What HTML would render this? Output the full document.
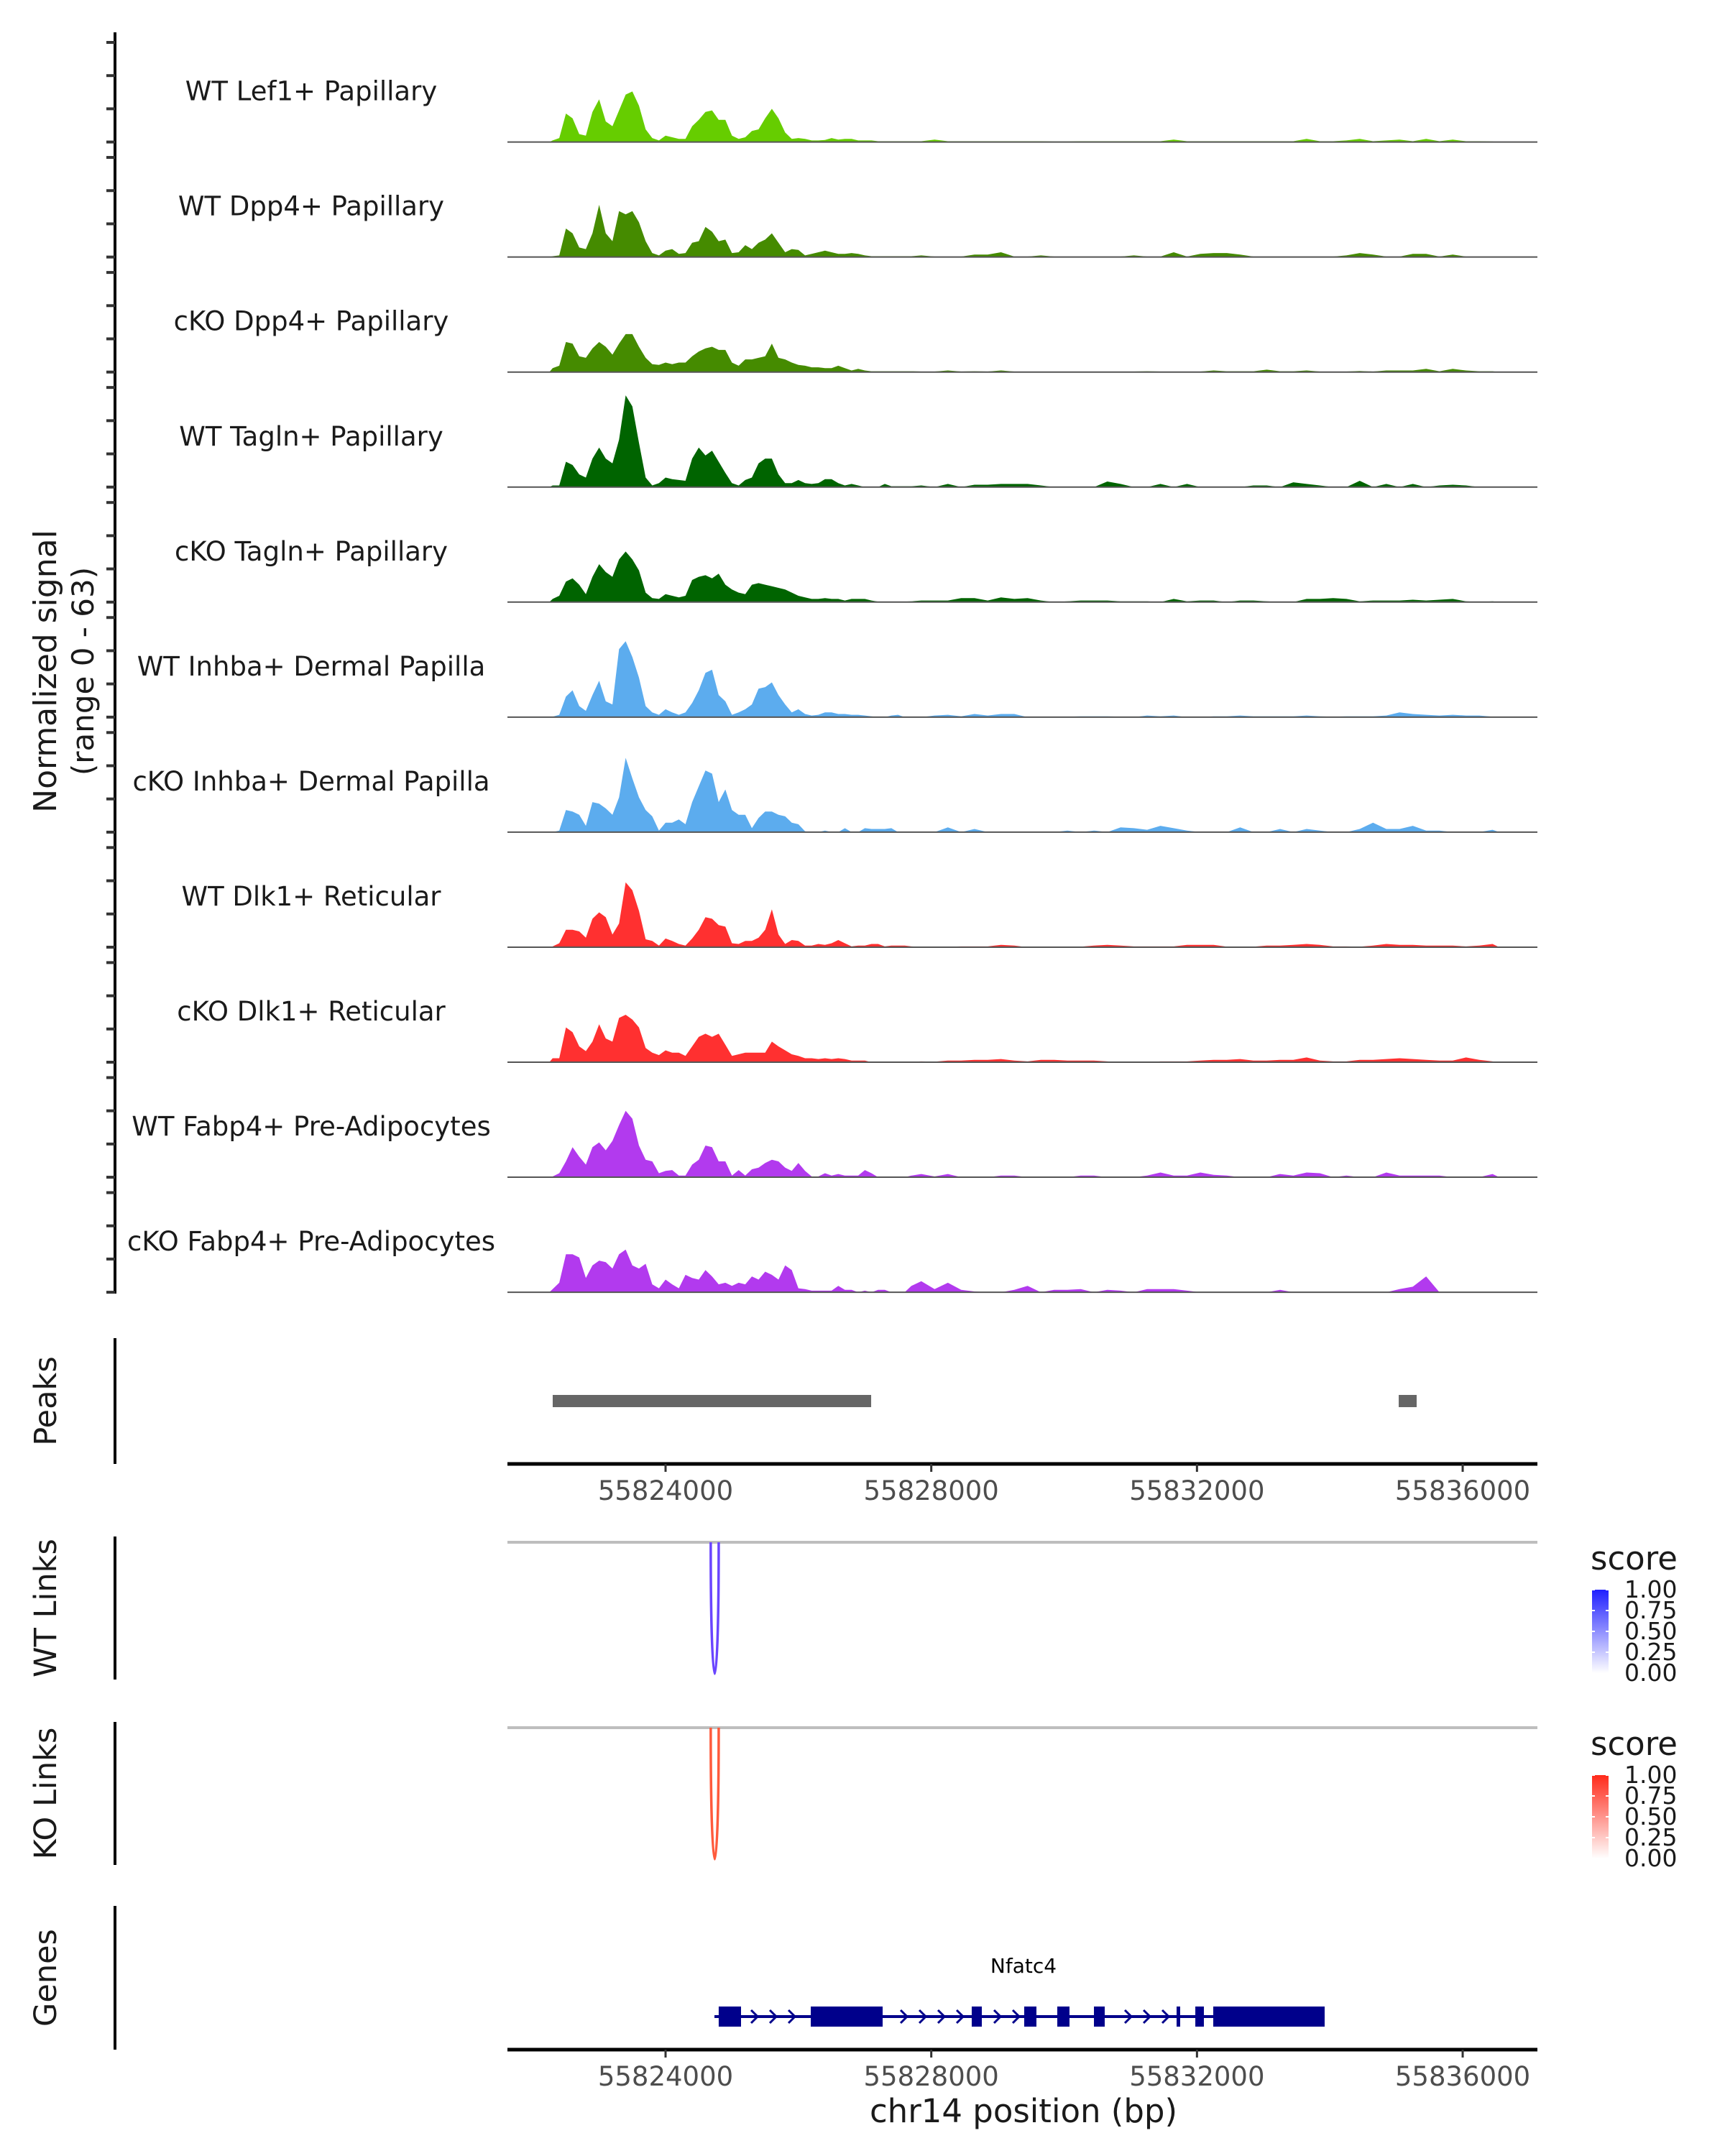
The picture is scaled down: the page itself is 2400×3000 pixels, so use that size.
<!DOCTYPE html>
<html><head><meta charset="utf-8"><style>
html,body{margin:0;padding:0;background:#fff}
svg{display:block}
text{font-family:"DejaVu Sans","Liberation Sans",sans-serif}
</style></head><body>
<svg id="fig" xmlns="http://www.w3.org/2000/svg" width="2400" height="3000" viewBox="0 0 2400 3000">
<rect width="2400" height="3000" fill="#fff"/>
<g id="tracks"></g>
<g id="peaks"></g>
<g id="links"></g>
<g id="genes"></g>
<g>
<text x="78" y="934" font-size="44" fill="#1a1a1a" text-anchor="middle" transform="rotate(-90 78 934)">Normalized signal</text>
<text x="130" y="934" font-size="42" fill="#1a1a1a" text-anchor="middle" transform="rotate(-90 130 934)">(range 0 - 63)</text>
</g>
<text x="1424" y="2953" font-size="45" fill="#1a1a1a" text-anchor="middle">chr14 position (bp)</text>
</svg>
<script>
const trackNames = ["WT Lef1+ Papillary","WT Dpp4+ Papillary","cKO Dpp4+ Papillary","WT Tagln+ Papillary","cKO Tagln+ Papillary","WT Inhba+ Dermal Papilla","cKO Inhba+ Dermal Papilla","WT Dlk1+ Reticular","cKO Dlk1+ Reticular","WT Fabp4+ Pre-Adipocytes","cKO Fabp4+ Pre-Adipocytes"];
const trackColors = ["#66cd00","#458b00","#458b00","#006400","#006400","#5cacee","#5cacee","#ff3030","#ff3030","#b23aee","#b23aee"];
// main region: 100bp bins starting 55822250
const mainStart = 55822250;
const mainBin = 100;
const sigLef1WT = [1,2.5,18,15,5,4,19,27,13,10,20,30,32,23,8,2.5,1,4,3,2,2,10,14,19,20,14,14,4,2,3,7,8,15,21,15,6,2,2.5,2,1,1,1.3,2.5,1.5,2,2,1,1,1,0.5,0.5,0.5,0.5,0.5,0.5];
const sigDpp4WT = [0.5,1,18,15,6,5,15,33,15,10,29,27,29,22,10,2.5,1,4,5,2,2.5,9,10,19,16,10,11,2.5,3,7.5,5,9,11,15,9,3,5,4.5,1,2,3,4,3,2,2,2.5,2,1,0.5,0.5,0.5,0.5,0.5,0.5,0.5];
const sigDpp4KO = [2.5,4,19,18,10,9,15,19,16,11,18,24,24,16,9,5,4.5,6,5,6,6,10,13,15,16,14,14,6,4,8,8,9,10,18,9,8,6,4.5,4,3,3,2.5,2.5,4,2.5,1,2,1,0.5,0.5,0.5,0.5,0.5,0.5,0.5];
const sigTaglnWT = [1,1,16,14,8,6,18,25,18,15,30,58,51,28,6,1,2.5,6,5,4.5,4,18,25,20,23,16,9,2.5,1,4.5,6,15,18,18,8,2.5,2.5,4.5,2.5,2,2.5,5,5,2.5,1,2,1,0,0,0,2,0.5,0.5,0.5,0.5];
const sigTaglnKO = [2,4,13,15,11,5,16,24,19,16,27,32,27,20,6,2.5,2,5,4,3,4,14,16,17,15,18,11,8,6,5,11,12,11,10,9,8,6,4,3,2,2,2.5,2,2,1,2,2,2,1,0.3,0.3,0.3,0.3,0.3,0.5];
const sigInhbaWT = [0.3,1.5,13,17,7,4,14,23,10,8,43,48,38,25,7,3,1.5,5,3,1.5,3,9,17,28,30,14,10,1.5,3,5,8,18,19,22,14,8,3,5,2,1,1.5,3,3,2,2,1.5,1.5,1,0.5,0,0,1,1.5,0,0];
const sigInhbaKO = [0,1,14,13,11,4,19,18,15,11,22,47,34,22,14,10,1,6,6,8,5,19,29,39,37,19,27,14,11,11,2.5,9,13,13,11,10,6,5,0.5,0,0,1,0,0,2.5,0,0,2.5,2,2,2,2.5,0,0,0];
const sigDlk1WT = [0.5,2.5,11,11,10,6,18,22,19,8,15,41,36,23,5,4,1,5.5,4,2,1,5.5,11,19,18,14,13,2.5,2,4,4,6,11,24,8,2,4.5,4,1,1,2,1.5,2.5,4.5,2.5,0.5,1,1,2,2,0.5,1,1,1,0.5];
const sigDlk1KO = [2.5,2.5,22,19,10,7,13,24,15,13,28,30,27,22,9,6,4.5,7.5,6,6,4,10,16,18,16,18,11,4,5,6,6,6,6,13,10,7.5,5,4,2.5,2.5,2,2.5,2,2.5,2,1,1,1,0,0.3,0.3,0.3,0.3,0.3,0.3];
const sigFabp4WT = [0.5,2.5,10,19,13,8,19,22,17,23,33,42,37,20,11,10,2.5,4,4.5,1,1,8,11,20,19,10,10,1,4.5,1,5,6,9,11,10,6,4,9,4,0.5,0.5,2.5,1,2,1,1,1,4.5,2.5,0,0.5,0,0,0,1];
const sigFabp4KO = [2,6,24,24,22,9,17,20,19,15,24,27,17,15,18,5,2.5,8,5,2.5,11,9,8,14,10,5,6,4,6,5,10,8,13,11,8,17,14,2.5,2,1,1,1,1,4,1.5,1.5,0,1,0,1.5,1.5,0,0,0,4];
// tail region: 200bp bins starting 55827750
const tailStart = 55827750;
const tailBin = 200;
const tailLef1WT = [0.5,1.5,0.5,0.5,0.5,0.5,0.5,0.5,0.5,0.5,0.3,0.3,0.5,0.5,0.5,0.5,0.5,0.5,0.5,1.5,0.5,0.5,0.5,0.5,0.5,0.5,0.5,0.5,0.5,2,0.5,0.5,1,2,0.5,1,1.5,0.5,2,0.5,1.5,0.5,0.5,0.3];
const tailDpp4WT = [1,0.3,0.3,0.3,1.5,1.5,3,0.3,0.3,1,0.3,0.3,0.3,0.3,0.3,0.3,1,0.3,0.3,3,0.3,2,2.5,2.5,1.5,0.3,0.3,0.3,0.3,0.3,0.3,0.3,1,2.5,1.5,0.3,0.3,2,2,0.3,1.5,0.3,0.3,0];
const tailDpp4KO = [0.3,0.3,1,0.3,0.5,0.3,1,0.3,0.3,0.3,0.3,0.3,0.3,0.3,0.3,0.3,0.3,0.5,0.3,0.3,0.3,0.3,1,0.5,0.5,0.5,1.5,0.5,0.5,1,0.3,0.3,0.3,0.7,0.3,1,1,1,2,0.5,2,1,0.5,0.5];
const tailTaglnWT = [1,0,2,0,1.5,1.5,2,2,2,1,0,0,0,0,3.5,2,0,0,2,0,2,0,0,0,0,1,1,0,3,2,1,0,0,4,0,2,0,2,0,1,1.5,1,0,0];
const tailTaglnKO = [1,1,1,2.5,2.5,1,3,2,2.5,1,0,0.5,1,1,1,0.5,0.5,0.5,0,2,0.5,1,1,0,1,1,0.5,0,0,2,2,2.5,2,0.5,1,1,1,1.5,1,1.5,2,0.5,0,0.5];
const tailInhbaWT = [0,1,1.5,0.5,2,1,2,2,0,0,0,0.3,0.5,0.5,0.5,0.3,0,1,0.5,1,0,0,0.5,0.5,1,0.5,0.5,0.5,0.5,1,0.5,0.3,0.5,0.5,0.5,1,3,2,1.5,1,1.5,1,1,0.3];
const tailInhbaKO = [0,0,3,0,2,0,0,0,0,0,0,1,0,1,0,3,2.5,1.5,4,2.5,1,0,0,0,3,0,0,2,0,2,1,0,0,2,6,2,2,4,1,1,0,0,0,1.5];
const tailDlk1WT = [0.3,0,0.3,0.5,0.5,0.5,1.5,1,0,0,0.3,0.3,0.3,1,1.5,1,0.5,0.5,0.5,0.5,1.5,1.5,1.5,0.3,0.3,0.3,1,1,1.5,2,1.5,0.5,0.5,0.3,1,2,1.5,1.5,1,1,1,0.5,1,2];
const tailDlk1KO = [0.5,0.3,1,1,1.5,1.5,2,1,0.5,1.5,1.5,1,1,1,0.5,0,0,0,0.5,0.5,0.5,1,1.5,1.5,2,1,1,1.5,1.5,3,1,0.5,0.5,1.5,1.5,2,2.5,2,1.5,1,1,3,1.5,0.5];
const tailFabp4WT = [2,0.5,2,0,0,0,1,1,0,0,0,0,1,1,0,0,0,1,3,1,1,3,1.5,1,0,0,0,2,1,3,2.5,0,1,0,0,3,1,1,1,1,0,0,0,2];
const tailFabp4KO = [7,2,6,1.5,0.5,0,0,1.5,4,0,1.5,1.5,2,0,1.5,1,0,2,2,2,1,0,0,0,0,0,0,1.5,0,0,0,0,0,0,0,0,2,3.5,10,0,0,0,0,0];
const mainSeries = [sigLef1WT,sigDpp4WT,sigDpp4KO,sigTaglnWT,sigTaglnKO,sigInhbaWT,sigInhbaKO,sigDlk1WT,sigDlk1KO,sigFabp4WT,sigFabp4KO];
const tailSeries = [tailLef1WT,tailDpp4WT,tailDpp4KO,tailTaglnWT,tailTaglnKO,tailInhbaWT,tailInhbaKO,tailDlk1WT,tailDlk1KO,tailFabp4WT,tailFabp4KO];
const yRangeMax = 63;
const yTickValues = [0,21,42,63];
const xTickValues = [55824000,55828000,55832000,55836000];
const peakStarts = [55822301,55835037];
const peakEnds = [55827095,55835307];
const wtLinkStart = [55824680];
const wtLinkEnd = [55824800];
const wtLinkScore = [0.8];
const koLinkStart = [55824680];
const koLinkEnd = [55824800];
const koLinkScore = [0.8];
const exonStarts = [55824800,55826186,55828609,55829399,55829897,55830449,55831693,55831975,55832245];
const exonEnds = [55825136,55827268,55828761,55829583,55830081,55830611,55831747,55832104,55833922];
const geneStart = 55824736, geneEnd = 55833922;
const legendTicks = ["1.00","0.75","0.50","0.25","0.00"];

const NS = "http://www.w3.org/2000/svg";
const X0 = 706, X1 = 2139;
function xScale(bp){ return 926 + (bp - 55824000) * 0.09242; }
const trackTop0 = 197.6, trackStep = 160.05, trackH = 138.6;
function yScale(v, k){ return trackTop0 + trackStep*k - v / yRangeMax * trackH; }
function mk(tag, attrs, parent){ const e = document.createElementNS(NS, tag); for (const a in attrs) e.setAttribute(a, attrs[a]); parent.appendChild(e); return e; }

const tracks = document.getElementById('tracks');
const axis = mk('line', {x1:160,y1:45,x2:160,y2:1800,stroke:'#000','stroke-width':4}, tracks);


trackNames.forEach((name, k) => {
  const base = yScale(0, k);
  const g = mk('g', {}, tracks);
  
  
  yTickValues.forEach(v => {
    const t = mk('line', {x1:148,x2:160,y1:yScale(v,k),y2:yScale(v,k),stroke:'#333','stroke-width':4}, g);
    
    
  });
  const pts = [];
  const m = mainSeries[k], tl = tailSeries[k];
  pts.push([xScale(mainStart), base]);
  m.forEach((v,i) => pts.push([xScale(mainStart + (i+0.5)*mainBin), yScale(v,k)]));
  tl.forEach((v,i) => pts.push([xScale(tailStart + (i+0.5)*tailBin), yScale(v,k)]));
  pts.push([xScale(tailStart + tl.length*tailBin), base]);
  const d = 'M' + pts.map(p => p[0].toFixed(1)+','+p[1].toFixed(1)).join('L') + 'Z';
  const area = mk('path', {d:d, fill:trackColors[k]}, g);
  
  
  const bl = mk('line', {x1:X0,x2:X1,y1:base,y2:base,stroke:'#555','stroke-width':2}, g);
  
  
  const lab = mk('text', {x:433,y:base-58,'font-size':37,fill:'#1a1a1a','text-anchor':'middle'}, g);
  lab.textContent = name;
  
  
});

function sideAxis(parent, y1, y2, label, name){
  const l = mk('line', {x1:160,x2:160,y1:y1,y2:y2,stroke:'#000','stroke-width':4}, parent);
  
  
  const cy = (y1+y2)/2;
  const t = mk('text', {x:78,y:cy,'font-size':43,fill:'#1a1a1a','text-anchor':'middle',transform:'rotate(-90 78 '+cy+')'}, parent);
  t.textContent = label;
  
  
}
function xAxis(parent, y, name){
  const l = mk('line', {x1:X0,x2:X1,y1:y,y2:y,stroke:'#000','stroke-width':5}, parent);
  
  
  xTickValues.forEach(v => {
    const x = xScale(v);
    const t = mk('line', {x1:x,x2:x,y1:y,y2:y+11,stroke:'#333','stroke-width':3}, parent);
    
    
    const tx = mk('text', {x:x,y:y+50,'font-size':37,fill:'#4d4d4d','text-anchor':'middle'}, parent);
    tx.textContent = String(v);
    
    
  });
}

const peaks = document.getElementById('peaks');
sideAxis(peaks, 1862, 2037, 'Peaks', 'peaks');
peakStarts.forEach((s,i) => {
  const r = mk('rect', {x:xScale(s),y:1941,width:xScale(peakEnds[i])-xScale(s),height:17,fill:'#666'}, peaks);
  
  
});
xAxis(peaks, 2037, 'peaks-x-axis');

const links = document.getElementById('links');
function linkPanel(y1, y2, lineY, label, name, starts, ends, scores, color, topColor, legY){
  const g = mk('g', {}, links);
  
  
  sideAxis(g, y1, y2, label, name);
  const gl = mk('line', {x1:X0,x2:X1,y1:lineY,y2:lineY,stroke:'#bebebe','stroke-width':4}, g);
  
  
  starts.forEach((s,i) => {
    const xa = xScale(s), xb = xScale(ends[i]);
    const depth = (y2 - 8 - lineY) * 1.333;
    const p = mk('path', {d:`M${xa},${lineY} C${xa},${lineY+depth} ${xb},${lineY+depth} ${xb},${lineY}`,fill:'none',stroke:color,'stroke-width':3.5}, g);
    
    
  });
  const lg = mk('g', {}, g);
  
  
  const st = mk('text', {x:2213,y:legY+15,'font-size':45,fill:'#1a1a1a'}, lg);
  st.textContent = 'score';
  
  
  const gid = 'grad-' + name;
  const defs = mk('defs', {}, lg);
  const gr = mk('linearGradient', {id:gid,x1:0,y1:1,x2:0,y2:0}, defs);
  mk('stop', {offset:0,'stop-color':'#ffffff'}, gr);
  mk('stop', {offset:1,'stop-color':topColor}, gr);
  const by = legY + 43, bh = 116;
  const bar = mk('rect', {x:2215,y:by,width:23,height:bh,fill:'url(#'+gid+')'}, lg);
  
  
  legendTicks.forEach((t,i) => {
    const yy = by + i * bh / 4;
    mk('line', {x1:2215,x2:2219,y1:yy,y2:yy,stroke:'#fff','stroke-width':2}, lg);
    mk('line', {x1:2234,x2:2238,y1:yy,y2:yy,stroke:'#fff','stroke-width':2}, lg);
    const tx = mk('text', {x:2260,y:yy+11,'font-size':33,fill:'#1a1a1a'}, lg);
    tx.textContent = t;
    
    
  });
}
linkPanel(2138, 2337, 2146, 'WT Links', 'wt-links', wtLinkStart, wtLinkEnd, wtLinkScore, '#6a45ff', '#1f1fff', 2169);
linkPanel(2396, 2595, 2404, 'KO Links', 'ko-links', koLinkStart, koLinkEnd, koLinkScore, '#ff5a3c', '#ff2a1a', 2427);

const genes = document.getElementById('genes');
sideAxis(genes, 2652, 2852, 'Genes', 'genes');
const gy = 2806;
const gline = mk('line', {x1:xScale(geneStart),x2:xScale(geneEnd),y1:gy,y2:gy,stroke:'#00008b','stroke-width':4}, genes);


for (let x = xScale(geneStart) + 4; x < xScale(geneEnd); x += 26) {
  let inside = false;
  exonStarts.forEach((s,i) => { if (x > xScale(s)-8 && x < xScale(exonEnds[i])+8) inside = true; });
  if (inside) continue;
  const c = mk('polyline', {points:`${x-5},${gy-9} ${x+4},${gy} ${x-5},${gy+9}`,fill:'none',stroke:'#00008b','stroke-width':3}, genes);
  
  
}
exonStarts.forEach((s,i) => {
  const r = mk('rect', {x:xScale(s),y:gy-14,width:Math.max(4,xScale(exonEnds[i])-xScale(s)),height:28,fill:'#00008b'}, genes);
  
  
});
const gn = mk('text', {x:1424,y:2745,'font-size':28,fill:'#000','text-anchor':'middle'}, genes);
gn.textContent = 'Nfatc4';


xAxis(genes, 2852, 'genes-x-axis');
</script>
</body></html>
